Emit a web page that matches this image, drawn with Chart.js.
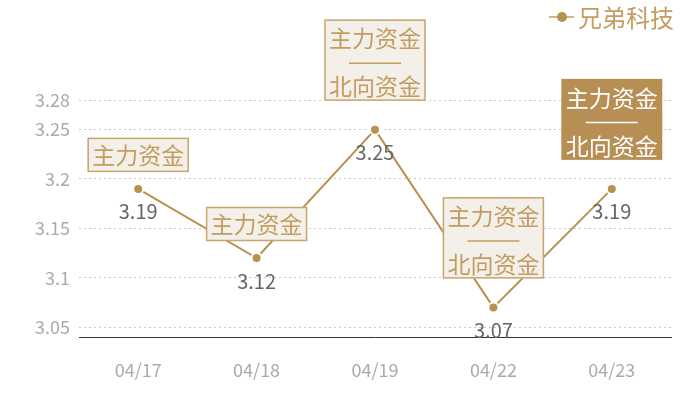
<!DOCTYPE html>
<html>
<head>
<meta charset="utf-8">
<script src="https://cdn.jsdelivr.net/npm/chart.js@4"></script>
<style>
  html, body { margin: 0; padding: 0; background: #fff; }
  #wrap { width: 700px; height: 400px; }
</style>
</head>
<body>
<div id="wrap"><canvas id="priceChart"></canvas></div>
<script>
// DATA
const categories = ['04/17', '04/18', '04/19', '04/22', '04/23'];
const closePrices = [3.19, 3.12, 3.25, 3.07, 3.19];
const tickValues = [3.05, 3.1, 3.15, 3.2, 3.25, 3.28];
const seriesName = '兄弟科技';
// 资金标签（每个交易日）
const flowTags = [
  ['主力资金'],
  ['主力资金'],
  ['主力资金', '北向资金'],
  ['主力资金', '北向资金'],
  ['主力资金', '北向资金']
];
const highlightIndex = 4;

// STYLE
const GOLD = '#b8914f';
const GOLD_TEXT = '#c39c5f';
const FONT = '"Noto Sans CJK SC", "Noto Sans", sans-serif';

// 标签框 + 数值 + 图例
const tagPlugin = {
  id: 'tagPlugin',
  afterDatasetsDraw(chart) {
    const ctx = chart.ctx;
    const meta = chart.getDatasetMeta(0);
    ctx.save();
    ctx.textAlign = 'center';
    ctx.textBaseline = 'middle';

    // 数值
    ctx.font = '20px ' + FONT;
    ctx.fillStyle = '#666';
    meta.data.forEach((pt, i) => {
      ctx.fillText(String(closePrices[i]), pt.x, pt.y + 23);
    });

    // 资金框
    meta.data.forEach((pt, i) => {
      const lines = flowTags[i];
      if (!lines || !lines.length) return;
      const two = lines.length > 1;
      const w = 101;
      const h = two ? 81 : 34;
      const bottom = pt.y - (two ? 29 : 17);
      const top = bottom - h;
      const left = pt.x - w / 2;
      const hl = i === highlightIndex;
      ctx.fillStyle = hl ? '#b78f54' : '#f3efe9';
      ctx.fillRect(left, top, w, h);
      if (!hl) {
        ctx.strokeStyle = '#c9a46f';
        ctx.lineWidth = 1.5;
        ctx.strokeRect(left + 0.5, top + 0.5, w - 1, h - 1);
      }
      const fg = hl ? '#fff' : GOLD_TEXT;
      ctx.fillStyle = fg;
      ctx.font = '23px ' + FONT;
      if (!two) {
        ctx.fillText(lines[0], pt.x, top + h / 2);
      } else {
        ctx.fillText(lines[0], pt.x, top + 19);
        // 分隔线
        ctx.strokeStyle = fg;
        ctx.lineWidth = 1.5;
        ctx.beginPath();
        ctx.moveTo(pt.x - 26, top + 43.5);
        ctx.lineTo(pt.x + 26, top + 43.5);
        ctx.stroke();
        ctx.fillText(lines[1], pt.x, top + 67);
      }
    });

    // 图例
    const ly = 17;
    ctx.strokeStyle = '#d2b488';
    ctx.lineWidth = 2;
    ctx.beginPath();
    ctx.moveTo(549, ly);
    ctx.lineTo(574, ly);
    ctx.stroke();
    ctx.fillStyle = GOLD;
    ctx.beginPath();
    ctx.arc(562, ly, 5, 0, Math.PI * 2);
    ctx.fill();
    ctx.textAlign = 'left';
    ctx.fillStyle = GOLD_TEXT;
    ctx.font = '24px ' + FONT;
    ctx.fillText(seriesName, 578, ly + 1);
    ctx.restore();
  }
};

new Chart(document.getElementById('priceChart'), {
  type: 'line',
  data: {
    labels: categories,
    datasets: [{
      label: seriesName,
      data: closePrices,
      borderColor: GOLD,
      borderWidth: 2,
      backgroundColor: GOLD,
      pointBackgroundColor: GOLD,
      pointBorderColor: '#fff',
      pointBorderWidth: 2,
      pointRadius: 5,
      tension: 0,
      fill: false
    }]
  },
  options: {
    responsive: true,
    maintainAspectRatio: false,
    animation: false,
    layout: { padding: { top: 100, right: 29, bottom: 0, left: 0 } },
    plugins: { legend: { display: false }, tooltip: { enabled: false } },
    scales: {
      x: {
        offset: true,
        grid: { display: false, drawTicks: false },
        border: { display: true, color: '#333', width: 1 },
        ticks: { color: '#aaa', font: { size: 18, family: FONT }, padding: 22 },
        afterFit: s => { s.height = 63; }
      },
      y: {
        min: 3.04,
        max: 3.28,
        afterBuildTicks: s => { s.ticks = tickValues.map(v => ({ value: v })); },
        afterFit: s => { s.width = 79; },
        grid: { color: '#c8c8c8', drawTicks: false },
        border: { display: false, dash: [2, 3] },
        ticks: {
          color: '#aaa',
          font: { size: 18, family: FONT },
          padding: 9,
          callback: v => String(v)
        }
      }
    }
  },
  plugins: [tagPlugin]
});
</script>
</body>
</html>
